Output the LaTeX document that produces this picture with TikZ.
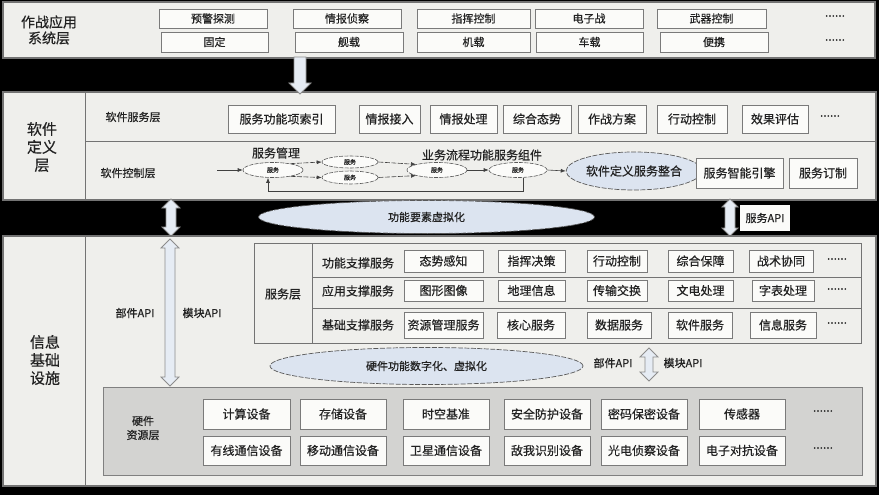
\documentclass[tikz,border=0pt]{standalone}
\usepackage{fontspec}
\setmainfont{Noto Sans CJK SC}[FakeBold=0.5]
\usetikzlibrary{arrows.meta,shapes.geometric}
\definecolor{panel}{HTML}{EFEFEC}
\definecolor{boxfill}{HTML}{FBFBF9}
\definecolor{boxline}{HTML}{7A7A7A}
\definecolor{ellfill}{HTML}{DCE4F0}
\definecolor{hwfill}{HTML}{D3D3D1}
\definecolor{txt}{HTML}{222222}
\newcommand\fsz[1]{\fontsize{#1}{#1}\selectfont}
\newcommand\vdarrow[5]{\filldraw[harrow] (#1,#2) -- ({#1+#5},{#2+#5}) -- ({#1+#4},{#2+#5}) -- ({#1+#4},{#3-#5}) -- ({#1+#5},{#3-#5}) -- (#1,#3) -- ({#1-#5},{#3-#5}) -- ({#1-#4},{#3-#5}) -- ({#1-#4},{#2+#5}) -- ({#1-#5},{#2+#5}) -- cycle;}
\newcommand\vsarrow[5]{\filldraw[harrow] ({#1-#4},#2) -- ({#1+#4},#2) -- ({#1+#4},{#3-#5}) -- ({#1+#5},{#3-#5}) -- (#1,#3) -- ({#1-#5},{#3-#5}) -- ({#1-#4},{#3-#5}) -- cycle;}
\tikzset{
  panelbox/.style={draw=black!55, line width=1.5pt, fill=panel},
  bx/.style 2 args={draw=boxline, line width=0.7pt, fill=boxfill, inner sep=0pt,
     minimum width=#1, minimum height=#2, font=\fsz{11}, text=txt},
  lbl/.style={inner sep=0pt, font=\fsz{11}, text=txt},
  biglbl/.style={inner sep=0pt, font=\fsz{15}, text=txt, align=center},
  dots/.style={inner sep=0pt, font=\fsz{12}, text=txt},
  ell/.style 2 args={ellipse, draw=black!65, dash pattern=on 5pt off 1.5pt, line width=0.7pt,
     fill=ellfill, minimum width=#1, minimum height=#2, inner sep=0pt, text=txt},
  sell/.style={ellipse, draw=black!65, dash pattern=on 4pt off 1.2pt, line width=0.6pt,
     fill=boxfill, minimum width=58, minimum height=14, inner sep=0pt, font=\fsz{6}, text=txt},
  harrow/.style={draw=black!45, line width=0.8pt, fill=ellfill!70!white},
  flow/.style={draw=black!75, line width=0.6pt, -{Latex[length=5pt,width=4pt]}},
  dflow/.style={flow, dash pattern=on 5pt off 1.5pt},
  grid/.style={draw=black!55, line width=0.8pt},
}
\begin{document}
\begin{tikzpicture}[x=1pt,y=-1pt]
\useasboundingbox (0,0) rectangle (879,495);
\fill[black] (0,0) rectangle (879,495);

% ---------- top panel ----------
\filldraw[panelbox] (3,2) rectangle (875,58);
\node[biglbl, font=\fsz{14}] (topL) at (49,30) {作战应用\\[2pt]系统层};
\node[bx={108}{19}] (t11) at (213,18.5) {预警探测};
\node[bx={108}{19}] (t12) at (347,18.5) {情报侦察};
\node[bx={113}{19}] (t13) at (473.5,18.5) {指挥控制};
\node[bx={108}{19}] (t14) at (589,18.5) {电子战};
\node[bx={109}{19}] (t15) at (711.5,18.5) {武器控制};
\node[dots] (t16) at (835,16) {......};
\node[bx={107}{20}] (t21) at (214.5,42) {固定};
\node[bx={108}{20}] (t22) at (349,42) {舰载};
\node[bx={113}{20}] (t23) at (473.5,42) {机载};
\node[bx={107}{20}] (t24) at (589.5,42) {车载};
\node[bx={108}{20}] (t25) at (714,42) {便携};
\node[dots] (t26) at (835,40) {......};

% ---------- middle panel ----------
\filldraw[panelbox] (3,92) rectangle (876,200);
\draw[grid] (85,92) -- (85,200);
\draw[grid] (85,141) -- (876,141);
\node[biglbl] (midL) at (42,147) {软件\\[3pt]定义\\[3pt]层};
\node[lbl] (swsl) at (133,117) {软件服务层};
\node[lbl] (swcl) at (128,173) {软件控制层};
\node[bx={107}{28}, font=\fsz{12}] (s1) at (281.5,119) {服务功能项索引};
\node[bx={61}{28}, font=\fsz{12}] (s2) at (389.5,119) {情报接入};
\node[bx={67}{28}, font=\fsz{12}] (s3) at (463.5,119) {情报处理};
\node[bx={68}{28}, font=\fsz{12}] (s4) at (537,119) {综合态势};
\node[bx={68}{28}, font=\fsz{12}] (s5) at (612,119) {作战方案};
\node[bx={70}{28}, font=\fsz{12}] (s6) at (692,119) {行动控制};
\node[bx={66}{28}, font=\fsz{12}] (s7) at (775,119) {效果评估};
\node[dots] (s8) at (830,116) {......};

\node[lbl, font=\fsz{12}] (mgmt) at (276,153) {服务管理};
\node[lbl, font=\fsz{12}] (bpc) at (482,155) {业务流程功能服务组件};
\coordinate (fin) at (217,170);
\node[sell, minimum width=60, minimum height=15] (e1) at (273,170) {服务};
\node[sell, minimum width=56, minimum height=12] (e2) at (350,162) {服务};
\node[sell, minimum width=56, minimum height=13] (e3) at (350,177.5) {服务};
\node[sell, minimum width=60, minimum height=15] (e4) at (437,170) {服务};
\node[sell, minimum width=58, minimum height=15] (e5) at (518,170) {服务};
\node[ell={118}{38}, font=\fsz{12}] (sdi) at (634,171) {软件定义服务整合};
\draw[flow] (fin) -- (e1.west);
\draw[dflow] (e1.20) -- (e2.west);
\draw[dflow] (e1.-20) -- (e3.west);
\draw[dflow] (e2.east) -- (e4.165);
\draw[dflow] (e3.east) -- (e4.195);
\draw[flow] (e4.east) -- (e5.west);
\draw[flow] (e5.east) -- (sdi.west);
\coordinate (fb1) at (523,191);
\coordinate (fb2) at (268,191);
\draw[flow] (e5.south -| fb1) -- (fb1) -- (fb2) -- (fb2 |- e1.south);
\node[bx={87}{30}, font=\fsz{12}] (se) at (739.5,173) {服务智能引擎};
\node[bx={68}{30}, font=\fsz{12}] (sc) at (823,173) {服务订制};

% ---------- band between middle and bottom ----------
\vdarrow{171}{199}{236}{5}{9}
\node[ell={336}{33}, font=\fsz{11}] (fev) at (426.5,217) {功能要素虚拟化};
\vdarrow{730}{199}{236}{5}{8}
\node[fill=boxfill, inner sep=2pt, minimum width=50, minimum height=26, font=\fsz{11}, text=txt] (sapi) at (765,218) {服务API};

% ---------- top arrow ----------
\vsarrow{300}{57}{94}{6}{11}

% ---------- bottom panel ----------
\filldraw[panelbox] (3,236) rectangle (876,486);
\draw[grid] (85,236) -- (85,486);
\node[biglbl] (botL) at (45,360) {信息\\[3pt]基础\\[3pt]设施};
\vdarrow{170}{239}{386}{5}{9}
\node[lbl] (bapi1) at (135,313) {部件API};
\node[lbl] (mapi1) at (202,313) {模块API};

% service layer block
\filldraw[grid, fill=panel] (254,243) rectangle (861,343);
\draw[grid] (312,243) -- (312,343);
\draw[grid] (312,277) -- (861,277);
\draw[grid] (312,308) -- (861,308);
\node[lbl, font=\fsz{12}] (svl) at (283,294) {服务层};
\node[lbl, font=\fsz{12}] (r1) at (358,263) {功能支撑服务};
\node[lbl, font=\fsz{12}] (r2) at (358,291) {应用支撑服务};
\node[lbl, font=\fsz{12}] (r3) at (358,325) {基础支撑服务};
\node[bx={79}{22}, font=\fsz{12}] (a11) at (443.5,261) {态势感知};
\node[bx={67}{22}, font=\fsz{12}] (a12) at (531.5,261) {指挥决策};
\node[bx={60}{22}, font=\fsz{12}] (a13) at (617,261) {行动控制};
\node[bx={65}{22}, font=\fsz{12}] (a14) at (700.5,261) {综合保障};
\node[bx={64}{22}, font=\fsz{12}] (a15) at (781,261) {战术协同};
\node[dots] (a16) at (837,259) {......};
\node[bx={79}{21}, font=\fsz{12}] (a21) at (443.5,290.5) {图形图像};
\node[bx={67}{21}, font=\fsz{12}] (a22) at (531.5,290.5) {地理信息};
\node[bx={60}{21}, font=\fsz{12}] (a23) at (617,290.5) {传输交换};
\node[bx={65}{21}, font=\fsz{12}] (a24) at (700.5,290.5) {文电处理};
\node[bx={62}{21}, font=\fsz{12}] (a25) at (783,290.5) {字表处理};
\node[dots] (a26) at (837,289) {......};
\node[bx={79}{26}, font=\fsz{12}] (a31) at (443.5,325) {资源管理服务};
\node[bx={68}{26}, font=\fsz{12}] (a32) at (531,325) {核心服务};
\node[bx={64}{26}, font=\fsz{12}] (a33) at (619,325) {数据服务};
\node[bx={64}{26}, font=\fsz{12}] (a34) at (700,325) {软件服务};
\node[bx={66}{26}, font=\fsz{12}] (a35) at (783,325) {信息服务};
\node[dots] (a36) at (837,323) {......};

\node[ell={313}{37}, font=\fsz{11}] (hdv) at (426.5,366) {硬件功能数字化、虚拟化};
\node[lbl] (bapi2) at (613,363) {部件API};
\vdarrow{649}{348}{381}{4}{9}
\node[lbl] (mapi2) at (683,363) {模块API};

% hardware block
\filldraw[draw=black!50, line width=0.8pt, fill=hwfill] (103,387) rectangle (862,475);
\node[lbl, align=center] (hwl) at (143,428) {硬件\\[3pt]资源层};
\node[bx={87}{30}, font=\fsz{12}] (h11) at (246.5,414) {计算设备};
\node[bx={86}{30}, font=\fsz{12}] (h12) at (343,414) {存储设备};
\node[bx={86}{30}, font=\fsz{12}] (h13) at (446,414) {时空基准};
\node[bx={86}{30}, font=\fsz{12}] (h14) at (547,414) {安全防护设备};
\node[bx={86}{30}, font=\fsz{12}] (h15) at (644,414) {密码保密设备};
\node[bx={86}{30}, font=\fsz{12}] (h16) at (742,414) {传感器};
\node[dots] (h17) at (823,411) {......};
\node[bx={87}{29}, font=\fsz{12}] (h21) at (246.5,450.5) {有线通信设备};
\node[bx={86}{29}, font=\fsz{12}] (h22) at (343,450.5) {移动通信设备};
\node[bx={86}{29}, font=\fsz{12}] (h23) at (446,450.5) {卫星通信设备};
\node[bx={86}{29}, font=\fsz{12}] (h24) at (547,450.5) {敌我识别设备};
\node[bx={86}{29}, font=\fsz{12}] (h25) at (644,450.5) {光电侦察设备};
\node[bx={86}{29}, font=\fsz{12}] (h26) at (742,450.5) {电子对抗设备};
\node[dots] (h27) at (823,448) {......};
\end{tikzpicture}
\end{document}
